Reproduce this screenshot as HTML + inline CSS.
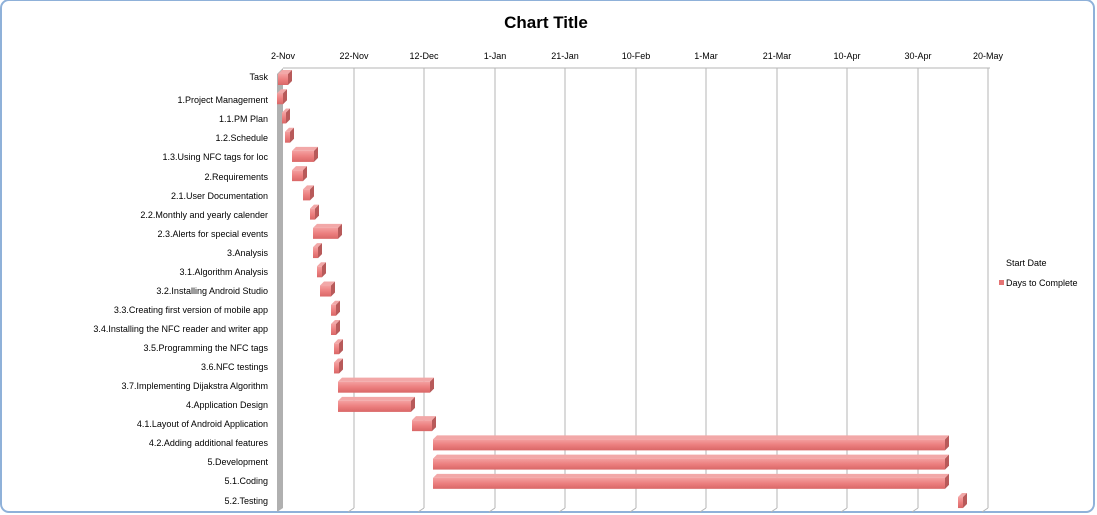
<!DOCTYPE html>
<html><head><meta charset="utf-8"><style>
body{margin:0;background:#fff;}
svg{display:block;font-family:"Liberation Sans",Calibri,sans-serif;}
</style></head><body>
<svg id="s" width="1097" height="515" viewBox="0 0 1097 515">
<defs>
<linearGradient id="g" x1="0" y1="0" x2="0" y2="1">
<stop offset="0" stop-color="#f4a0a0"/><stop offset="0.5" stop-color="#ec7f7f"/><stop offset="1" stop-color="#d96767"/>
</linearGradient>
</defs>
<rect x="1" y="0" width="1093" height="512" rx="8" fill="#fff" stroke="#8fb1d9" stroke-width="2"/>
<text x="546" y="28" text-anchor="middle" font-size="17" font-weight="bold">Chart Title</text>
<g id="grid"></g>
<g font-size="9" text-anchor="middle">
<text x="283" y="59">2-Nov</text><text x="354" y="59">22-Nov</text><text x="424" y="59">12-Dec</text>
<text x="495" y="59">1-Jan</text><text x="565" y="59">21-Jan</text><text x="636" y="59">10-Feb</text>
<text x="706" y="59">1-Mar</text><text x="777" y="59">21-Mar</text><text x="847" y="59">10-Apr</text>
<text x="918" y="59">30-Apr</text><text x="988" y="59">20-May</text>
</g>
<g font-size="9" text-anchor="end">
<text x="268" y="80">Task</text>
<text x="268" y="103">1.Project Management</text>
<text x="268" y="122">1.1.PM Plan</text>
<text x="268" y="141">1.2.Schedule</text>
<text x="268" y="160">1.3.Using NFC tags for loc</text>
<text x="268" y="180">2.Requirements</text>
<text x="268" y="199">2.1.User Documentation</text>
<text x="268" y="218">2.2.Monthly and yearly calender</text>
<text x="268" y="237">2.3.Alerts for special events</text>
<text x="268" y="256">3.Analysis</text>
<text x="268" y="275">3.1.Algorithm Analysis</text>
<text x="268" y="294">3.2.Installing Android Studio</text>
<text x="268" y="313">3.3.Creating first version of mobile app</text>
<text x="268" y="332">3.4.Installing the NFC reader and writer app</text>
<text x="268" y="351">3.5.Programming the NFC tags</text>
<text x="268" y="370">3.6.NFC testings</text>
<text x="268" y="389">3.7.Implementing Dijakstra Algorithm</text>
<text x="268" y="408">4.Application Design</text>
<text x="268" y="427">4.1.Layout of Android Application</text>
<text x="268" y="446">4.2.Adding additional features</text>
<text x="268" y="465">5.Development</text>
<text x="268" y="484">5.1.Coding</text>
<text x="268" y="504">5.2.Testing</text>
</g>
<g id="bars"></g>
<g font-size="9">
<text x="1006" y="266">Start Date</text>
<rect x="999" y="280" width="5" height="5" fill="#e57373"/>
<text x="1006" y="286">Days to Complete</text>
</g>
</svg>
<script>
var ns="http://www.w3.org/2000/svg";
function el(p,t,a){var e=document.createElementNS(ns,t);for(var k in a)e.setAttribute(k,a[k]);p.appendChild(e);return e;}
var g=document.getElementById('grid');
el(g,'polygon',{points:"277,74 283,68 283,508 277,512",fill:"#b0b0b0"});
el(g,'line',{x1:283,y1:68,x2:990,y2:68,stroke:"#b5b5b5"});
[354,424,495,565,636,706,777,847,918,988].forEach(function(x){
 el(g,'line',{x1:x,y1:68,x2:x,y2:508,stroke:"#b5b5b5"});
 el(g,'line',{x1:x,y1:508,x2:x-6,y2:512,stroke:"#b5b5b5"});
});
var b=document.getElementById('bars');
var d=[[278,288],[277,283],[282,286],[285,290],[292,314],[292,303],[303,310],[310,315],[313,338],[313,318],[317,322],[320,331],[331,336],[331,336],[334,339],[334,339],[338,430],[338,411],[412,432],[433,945],[433,945],[433,945],[958,963]];
d.forEach(function(r,i){
 var c=77+i*19.23, x1=r[0], x2=r[1], t=c-3, h=11, k=4;
 el(b,'polygon',{points:[x1,t,x1+k,t-k,x2+k,t-k,x2,t].join(' '),fill:"#f2a8a8"});
 el(b,'polygon',{points:[x2,t,x2+k,t-k,x2+k,t+h-k,x2,t+h].join(' '),fill:"#b85a5a"});
 el(b,'rect',{x:x1,y:t,width:x2-x1,height:h,fill:"url(#g)"});
});
</script>
</body></html>
